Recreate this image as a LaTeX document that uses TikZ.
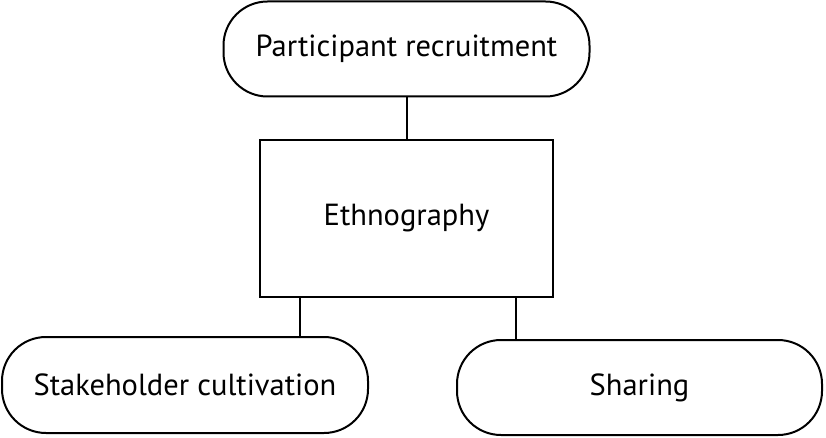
\documentclass[tikz,border=0pt]{standalone}
\usepackage{fontspec}
\setmainfont{PT Sans}
\begin{document}
\begin{tikzpicture}[x=1pt,y=-1pt,
  pill/.style={draw, line width=2pt, rounded corners=44pt, minimum height=95pt, inner sep=0pt, font=\fontsize{30.5}{34}\selectfont},
  box/.style={draw, line width=2pt, inner sep=0pt, font=\fontsize{30.5}{34}\selectfont},
  conn/.style={line width=2pt}]
\useasboundingbox (0,0) rectangle (826,438);
\node[pill, minimum width=366pt] (pr) at (406.5,49) {Participant recruitment};
\node[box, minimum width=293pt, minimum height=157pt] (eth) at (406.5,218.5) {Ethnography};
\node[pill, minimum width=366pt, minimum height=96pt] (sc) at (185,385) {Stakeholder cultivation};
\node[pill, minimum width=365pt] (sh) at (639.5,387.5) {Sharing};
\draw[conn] (pr.south) -- (eth.north);
\draw[conn] (eth.south -| 300,0) -- (sc.north -| 300,0);
\draw[conn] (eth.south -| 516,0) -- (sh.north -| 516,0);
\end{tikzpicture}
\end{document}
